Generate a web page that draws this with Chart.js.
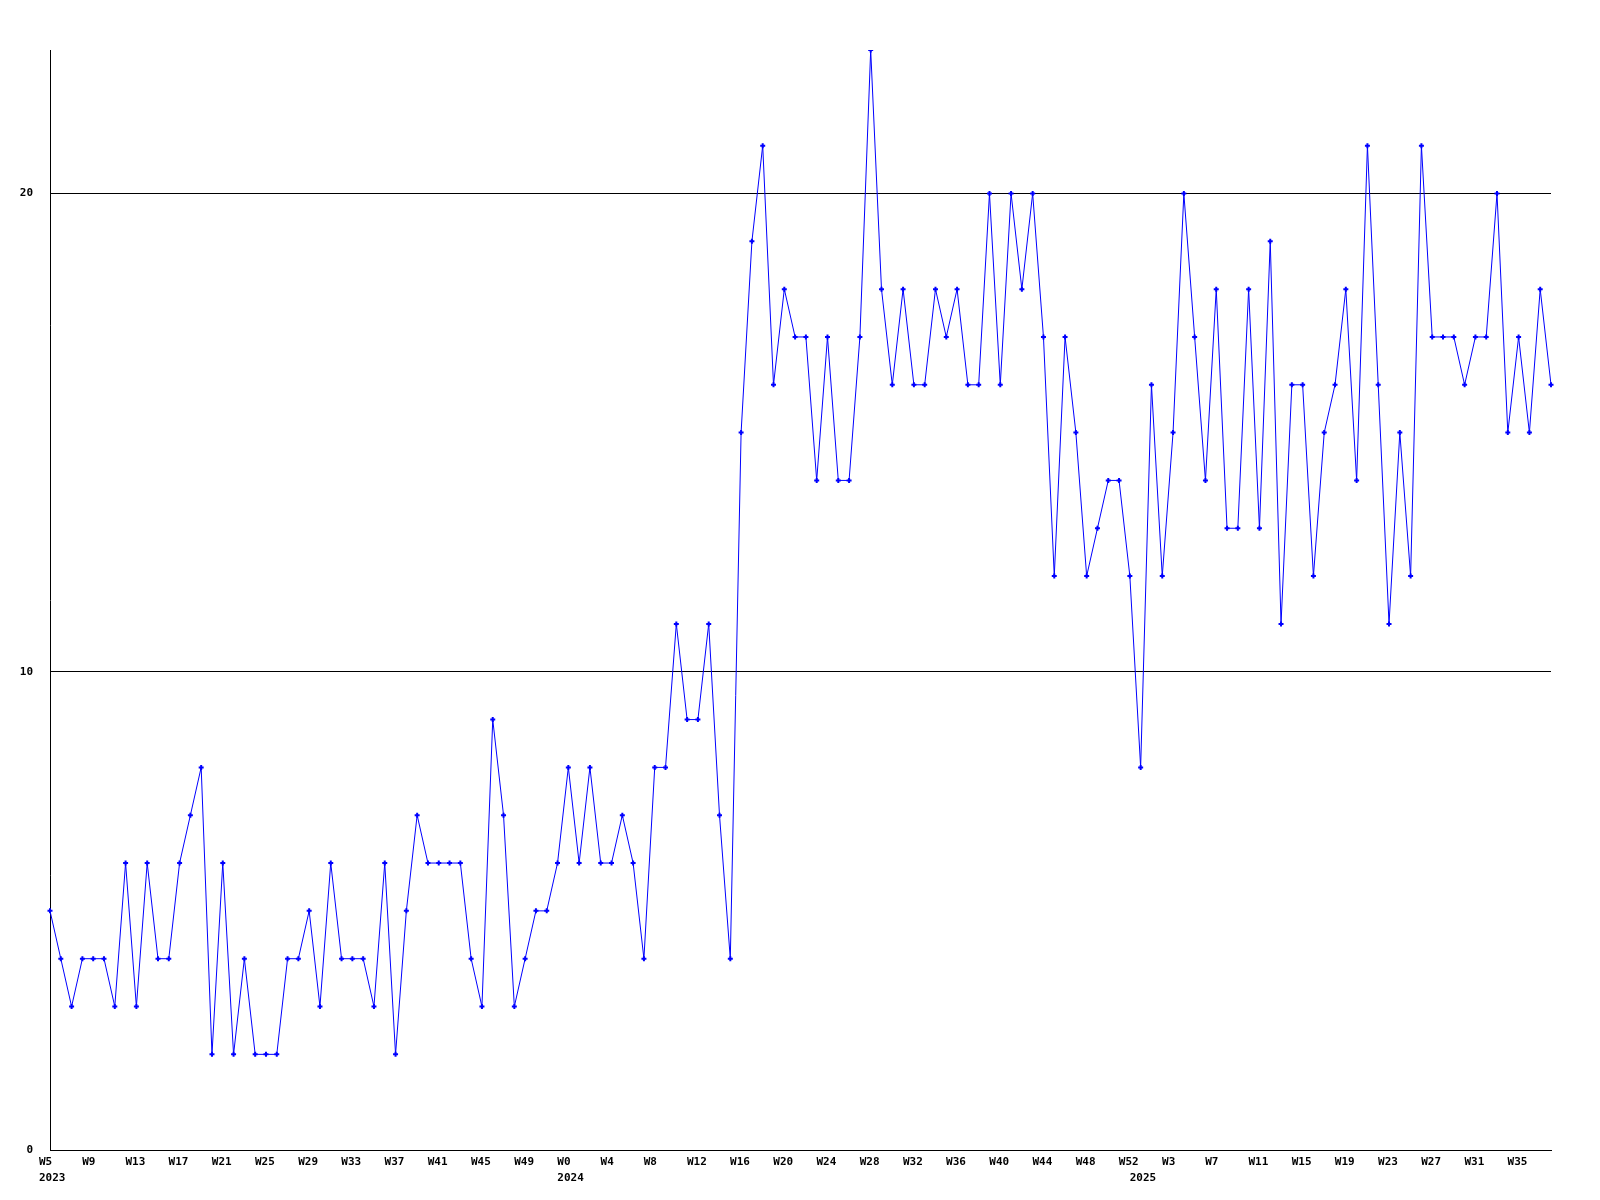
<!DOCTYPE html>
<html>
<head>
<meta charset="utf-8">
<script src="https://cdn.jsdelivr.net/npm/chart.js@4.4.1/dist/chart.umd.min.js"></script>
<style>
  html, body { margin: 0; padding: 0; background: #ffffff; }
  #wrap { width: 1600px; height: 1200px; }
</style>
</head>
<body>
<div id="wrap"><canvas id="c" width="1600" height="1200"></canvas></div>
<script>
// ---- data ----
const weeks2023 = ['W5','W6','W7','W8','W9','W10','W11','W12','W13','W14','W15','W16','W17','W18','W19','W20','W21','W22','W23','W24','W25','W26','W27','W28','W29','W30','W31','W32','W33','W34','W35','W36','W37','W38','W39','W40','W41','W42','W43','W44','W45','W46','W47','W48','W49','W50','W51','W52'];
const weeks2024 = ['W0','W1','W2','W3','W4','W5','W6','W7','W8','W9','W10','W11','W12','W13','W14','W15','W16','W17','W18','W19','W20','W21','W22','W23','W24','W25','W26','W27','W28','W29','W30','W31','W32','W33','W34','W35','W36','W37','W38','W39','W40','W41','W42','W43','W44','W45','W46','W47','W48','W49','W50','W51','W52'];
const weeks2025 = ['W0','W1','W2','W3','W4','W5','W6','W7','W8','W9','W10','W11','W12','W13','W14','W15','W16','W17','W18','W19','W20','W21','W22','W23','W24','W25','W26','W27','W28','W29','W30','W31','W32','W33','W34','W35','W36','W37','W38'];

const values2023 = [5,4,3,4,4,4,3,6,3,6, 4,4,6,7,8,2,6,2,4,2, 2,2,4,4,5,3,6,4,4,4, 3,6,2,5,7,6,6,6,6,4, 3,9,7,3,4,5,5,6];
const values2024 = [8,6,8,6,6,7,6,4,8,8, 11,9,9,11,7,4,15,19,21,16, 18,17,17,14,17,14,14,17,23,18, 16,18,16,16,18,17,18,16,16,20, 16,20,18,20,17,12,17,15,12,13, 14,14,12];
const values2025 = [8,16,12,15,20,17,14,18,13,13, 18,13,19,11,16,16,12,15,16,18, 14,21,16,11,15,12,21,17,17,17, 16,17,17,20,15,17,15,18,16];

const yearLabels = ['2023', '2024', '2025'];
const yTickValues = [0, 10, 20];
const labelEvery = 4;

// ---- build ----
const weekLabels = [].concat(weeks2023, weeks2024, weeks2025);
const weekYears = [].concat(
  weeks2023.map(() => yearLabels[0]),
  weeks2024.map(() => yearLabels[1]),
  weeks2025.map(() => yearLabels[2])
);
const values = [].concat(values2023, values2024, values2025);

const FONT = { family: '"DejaVu Sans Mono", monospace', size: 11, weight: 'bold', lineHeight: '16px' };

new Chart(document.getElementById('c'), {
  type: 'line',
  data: {
    labels: weekLabels,
    datasets: [{
      data: values,
      borderColor: '#0000ff',
      backgroundColor: '#0000ff',
      borderWidth: 1,
      tension: 0,
      fill: false,
      pointStyle: 'cross',
      pointRadius: 2.5,
      pointBorderWidth: 2,
      pointBorderColor: '#0000ff',
      pointHoverRadius: 2.5
    }]
  },
  options: {
    responsive: false,
    animation: false,
    devicePixelRatio: 1,
    layout: { padding: { left: 0, top: 50, right: 49, bottom: 0 } },
    plugins: { legend: { display: false }, tooltip: { enabled: false } },
    scales: {
      x: {
        type: 'category',
        offset: false,
        grid: { display: false, drawTicks: false },
        border: { display: true, color: '#000000', width: 1 },
        ticks: {
          autoSkip: false,
          maxRotation: 0,
          minRotation: 0,
          align: 'start',
          labelOffset: -11,
          padding: 4,
          color: '#000000',
          font: FONT,
          callback: function (val, index) {
            const showWeek = index % labelEvery === 0;
            const yearStart = index === 0 || weekYears[index] !== weekYears[index - 1];
            if (!showWeek && !yearStart) return '';
            return [showWeek ? weekLabels[index] : '', yearStart ? weekYears[index] : ''];
          }
        },
        afterFit: function (s) { s.height = 50; }
      },
      y: {
        min: 0,
        max: 23,
        grid: { display: true, color: '#000000', lineWidth: 1, drawTicks: false },
        border: { display: true, color: '#000000', width: 1 },
        ticks: {
          stepSize: 10,
          padding: 17,
          color: '#000000',
          font: { family: '"DejaVu Sans Mono", monospace', size: 11, weight: 'bold' }
        },
        afterBuildTicks: function (s) {
          s.ticks = yTickValues.map(v => ({ value: v }));
        },
        afterFit: function (s) { s.width = 50; }
      }
    }
  }
});
</script>
</body>
</html>
